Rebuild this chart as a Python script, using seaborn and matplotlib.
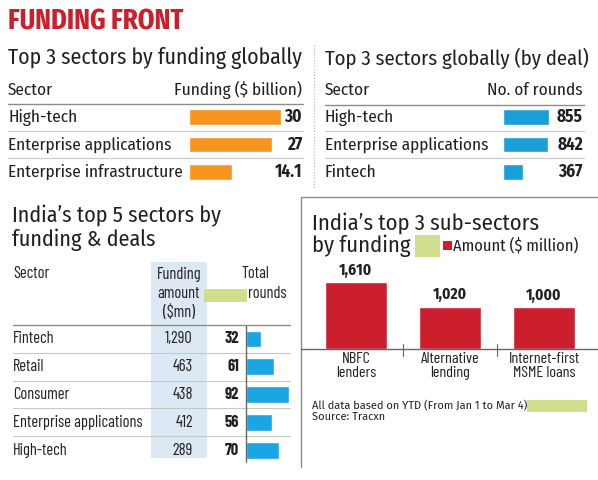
import numpy as np
import pandas as pd
import matplotlib
matplotlib.use("Agg")
import matplotlib.pyplot as plt
import seaborn as sns
from matplotlib.lines import Line2D
from matplotlib.patches import Rectangle
from matplotlib.transforms import blended_transform_factory as blend

# 데이터
global_sectors = ["High-tech", "Enterprise applications", "Enterprise infrastructure"]
global_funding = [30, 27, 14.1]
deal_sectors = ["High-tech", "Enterprise applications", "Fintech"]
deal_rounds = [855, 842, 367]
india_sectors = ["Fintech", "Retail", "Consumer", "Enterprise applications", "High-tech"]
india_funding = [1290, 463, 438, 412, 289]
india_rounds = [32, 61, 92, 56, 70]
sub_sectors = ["NBFC\nlenders", "Alternative\nlending", "Internet-first\nMSME loans"]
sub_amount = [1610, 1020, 1000]

RED = "#cc1f2d"
ORANGE = "#f7941d"
BLUE = "#1a9fd6"
BLUE2 = "#1aa6e4"
INK = "#231f20"
DARK = "#8c8c8c"
LIGHT = "#c8c8c8"
GREEN = "#cfdf8e"

COND = ["Fira Sans Condensed", "Liberation Sans", "DejaVu Sans"]
XCOND = ["Barlow Condensed", "Fira Sans Extra Condensed", "Liberation Sans", "DejaVu Sans"]
TITLE = ["Fira Sans Extra Condensed", "Liberation Sans", "DejaVu Sans"]
REG = ["Fira Sans", "Open Sans", "DejaVu Sans"]

W, H = 598, 480
sns.set_theme(style="white")
plt.rcParams["font.family"] = COND
fig = plt.figure(figsize=(W / 100, H / 100), dpi=100)
fig.patch.set_facecolor("white")
renderer = fig.canvas.get_renderer()


def fx(x):
    return x / W


def fy(y):
    return 1 - y / H


def px_axes(x0, y0, x1, y1):
    return fig.add_axes([fx(x0), fy(y1), (x1 - x0) / W, (y1 - y0) / H])


def fit(s, w, family=COND, weight="normal"):
    # 글자 폭을 기준 픽셀 폭에 맞춘 크기
    t = fig.text(0, 0, s, fontsize=10, family=family, weight=weight)
    bw = t.get_window_extent(renderer).width
    t.remove()
    return 10 * w / bw


def text(x, y, s, size, family=COND, **kw):
    kw.setdefault("va", "center")
    kw.setdefault("color", INK)
    return fig.text(fx(x), fy(y), s, fontsize=size, family=family, **kw)


def hline(y, x0, x1, color=LIGHT, lw=0.8, **kw):
    fig.add_artist(Line2D([fx(x0), fx(x1)], [fy(y), fy(y)], color=color, lw=lw,
                          transform=fig.transFigure, **kw))


def vline(x, y0, y1, color=DARK, lw=0.8, **kw):
    fig.add_artist(Line2D([fx(x), fx(x)], [fy(y0), fy(y1)], color=color, lw=lw,
                          transform=fig.transFigure, **kw))


def rect(x0, y0, x1, y1, color):
    fig.add_artist(Rectangle((fx(x0), fy(y1)), (x1 - x0) / W, (y1 - y0) / H,
                             color=color, transform=fig.transFigure, lw=0, zorder=-1))


def hbars(x0, x1, top, bottom, cats, vals, k, color, height):
    ax = px_axes(x0, top, x1, bottom)
    df = pd.DataFrame({"cat": cats, "val": vals})
    sns.barplot(data=df, x="val", y="cat", orient="h", color=color, width=height,
                saturation=1, ax=ax)
    ax.set_xlim(0, (x1 - x0) / k)
    ax.set_ylim(len(cats) - 0.5, -0.5)
    ax.set_axis_off()
    return ax


# 글자 크기
S_TITLE = fit("FUNDING FRONT", 175, TITLE, "bold")
S_HEAD = fit("Top 3 sectors by funding globally", 294)
S_ROW = fit("Enterprise infrastructure", 175)
S_BL = fit("Enterprise applications", 129, XCOND)
S_BR = fit("Internet-first", 72, XCOND)
S_FOOT = fit("All data based on YTD (From Jan 1 to Mar 4)", 215, REG)

# 제목
text(8, 22, "FUNDING FRONT", S_TITLE, family=TITLE, weight="bold", color=RED)

# 왼쪽 위: 글로벌 펀딩
text(8, 58, "Top 3 sectors by funding globally", S_HEAD)
text(8, 90, "Sector", S_ROW)
text(302, 90, "Funding ($ billion)", S_ROW, ha="right")
hline(104, 8, 303, DARK, 1.0)
hline(131, 8, 303)
hline(158, 8, 303)
ax1 = hbars(189, 300, 103.25, 185.75, global_sectors, global_funding, 3.07, ORANGE, 0.58)
tr = blend(fig.transFigure, ax1.transData)
for i, (s, v) in enumerate(zip(global_sectors, global_funding)):
    ax1.text(fx(8), i, s, transform=tr, va="center", fontsize=S_ROW, color=INK)
    ax1.text(fx(302), i, f"{v:g}", transform=tr, va="center", ha="right",
             fontsize=S_ROW, weight="bold", color=INK)

vline(314, 45, 188, "#b5b5b5", 0.8, linestyle=":")

# 오른쪽 위: 딜 기준
text(325, 58, "Top 3 sectors globally (by deal)", fit("Top 3 sectors globally (by deal)", 265))
text(325, 90, "Sector", S_ROW)
text(583, 90, "No. of rounds", S_ROW, ha="right")
hline(105, 325, 584, DARK, 1.0)
hline(131, 325, 584)
hline(158, 325, 584)
ax2 = hbars(503, 583, 103.25, 185.75, deal_sectors, deal_rounds, 0.0538, BLUE, 0.58)
tr = blend(fig.transFigure, ax2.transData)
for i, (s, v) in enumerate(zip(deal_sectors, deal_rounds)):
    ax2.text(fx(325), i, s, transform=tr, va="center", fontsize=S_ROW, color=INK)
    ax2.text(fx(583), i, f"{v}", transform=tr, va="center", ha="right",
             fontsize=S_ROW, weight="bold", color=INK)

# 왼쪽 아래: 인도 상위 5개 섹터
s_in = fit("India\u2019s top 5 sectors by", 209)
text(12, 216, "India\u2019s top 5 sectors by", s_in)
text(12, 240, "funding & deals", s_in)
rect(151, 262, 207, 458, "#dce9f4")
rect(204, 289, 247, 302, GREEN)
text(13, 274, "Sector", S_BL, family=XCOND)
for y, s in zip([274, 293, 312], ["Funding", "amount", "($mn)"]):
    text(179, y, s, S_BL, family=XCOND, ha="center")
text(255.5, 274, "Total", S_BL, family=XCOND, ha="center")
text(267.5, 293, "rounds", S_BL, family=XCOND, ha="center")
hline(325, 13, 290, DARK, 1.0)
for y in [353, 381, 408, 436]:
    hline(y, 13, 290)
ax3 = hbars(246, 295, 325.1, 464, india_sectors, india_rounds, 0.465, BLUE2, 0.61)
vline(246, 326, 462, "#666666", 1.0)
tr = blend(fig.transFigure, ax3.transData)
for i, (s, f, r) in enumerate(zip(india_sectors, india_funding, india_rounds)):
    ax3.text(fx(13), i, s, transform=tr, va="center", fontsize=S_BL, family=XCOND, color=INK)
    ax3.text(fx(193), i, f"{f:,}", transform=tr, va="center", ha="right",
             fontsize=S_BL, family=XCOND, color=INK)
    ax3.text(fx(239), i, f"{r}", transform=tr, va="center", ha="right",
             fontsize=S_BL, family=XCOND, weight="bold", color=INK)

# 오른쪽 아래: 하위 섹터
vline(301, 197, 467, DARK, 1.0)
hline(197, 301, 598, DARK, 1.0)
s_sub = fit("India\u2019s top 3 sub-sectors", 228)
text(312, 223, "India\u2019s top 3 sub-sectors", s_sub)
text(312, 246, "by funding", s_sub)
rect(415, 235, 440, 257, GREEN)
rect(443, 241, 452, 250, RED)
text(453, 246, "Amount ($ million)", fit("Amount ($ million)", 125))

ax4 = px_axes(309, 260, 591, 349)
df4 = pd.DataFrame({"sub": sub_sectors, "amount": sub_amount})
sns.barplot(data=df4, x="sub", y="amount", color=RED, width=0.66, saturation=1, ax=ax4)
ax4.bar_label(ax4.containers[0], labels=[f"{v:,}" for v in sub_amount], padding=3,
              fontsize=fit("1,610", 33, COND, "bold"), weight="bold", color=INK)
ax4.set_xlim(-0.5, 2.5)
ax4.set_ylim(0, 89 / 0.0416)
ax4.set_axis_off()
hline(349, 301, 598, "#666666", 1.0)
for x in [403, 497]:
    vline(x, 344, 356, "#666666", 0.8)
tr = blend(ax4.transData, fig.transFigure)
for i, s in enumerate(sub_sectors):
    ax4.text(i, fy(352), s, transform=tr, ha="center", va="top", fontsize=S_BR,
             family=XCOND, linespacing=1.0, color=INK)

text(312, 406, "All data based on YTD (From Jan 1 to Mar 4)", S_FOOT, family=REG)
text(312, 417, "Source: Tracxn", S_FOOT, family=REG)
rect(527, 400, 587, 412, GREEN)

fig.savefig("out.png", dpi=100)
